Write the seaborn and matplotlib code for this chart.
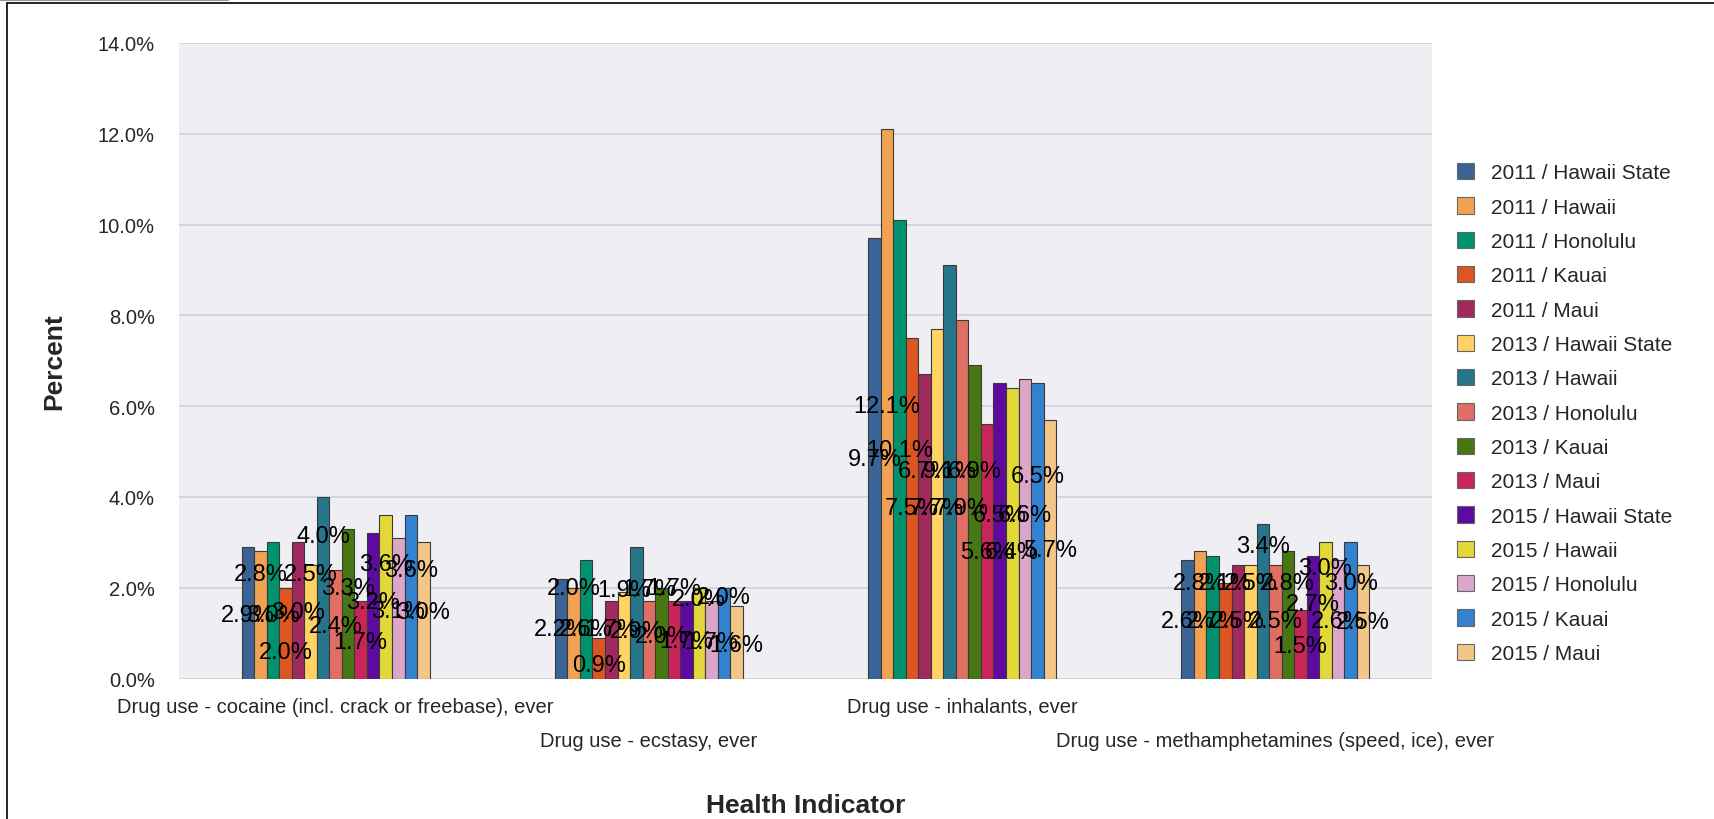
import numpy as np
import pandas as pd
import matplotlib
matplotlib.use("Agg")
import matplotlib.pyplot as plt
from matplotlib.lines import Line2D
from matplotlib.patches import Patch
import seaborn as sns

# categories and series
indicators = [
    "Drug use - cocaine (incl. crack or freebase), ever",
    "Drug use - ecstasy, ever",
    "Drug use - inhalants, ever",
    "Drug use - methamphetamines (speed, ice), ever",
]
series = [
    "2011 / Hawaii State", "2011 / Hawaii", "2011 / Honolulu", "2011 / Kauai", "2011 / Maui",
    "2013 / Hawaii State", "2013 / Hawaii", "2013 / Honolulu", "2013 / Kauai", "2013 / Maui",
    "2015 / Hawaii State", "2015 / Hawaii", "2015 / Honolulu", "2015 / Kauai", "2015 / Maui",
]
colors = [
    "#3a6496", "#f0a252", "#00926c", "#dc5621", "#a02a5e",
    "#ffd263", "#27758a", "#df6f62", "#467713", "#ca2559",
    "#5e0a9e", "#e3d83a", "#dba6ca", "#3282d0", "#f3c587",
]

# percent values, one list per indicator (in series order)
cocaine = [2.9, 2.8, 3.0, 2.0, 3.0, 2.5, 4.0, 2.4, 3.3, 1.7, 3.2, 3.6, 3.1, 3.6, 3.0]
ecstasy = [2.2, 2.0, 2.6, 0.9, 1.7, 1.9, 2.9, 1.7, 2.0, 1.7, 1.7, 2.0, 1.7, 2.0, 1.6]
inhalants = [9.7, 12.1, 10.1, 7.5, 6.7, 7.7, 9.1, 7.9, 6.9, 5.6, 6.5, 6.4, 6.6, 6.5, 5.7]
meth = [2.6, 2.8, 2.7, 2.1, 2.5, 2.5, 3.4, 2.5, 2.8, 1.5, 2.7, 3.0, 2.6, 3.0, 2.5]
values = [cocaine, ecstasy, inhalants, meth]

# heights where the value labels sit (the original shuffles them to dodge overlaps)
cocaine_lab = [1.4, 2.3, 1.4, 0.58, 1.46, 2.3, 3.15, 1.16, 2.0, 0.8, 1.68, 2.52, 1.49, 2.39, 1.46]
ecstasy_lab = [1.1, 2.0, 1.1, 0.3, 1.1, 1.95, 1.05, 1.97, 0.94, 2.0, 0.83, 1.75, 0.8, 1.8, 0.74]
inhalants_lab = [4.84, 6.0, 5.04, 3.76, 4.57, 3.76, 4.57, 3.76, 4.57, 2.79, 3.6, 2.79, 3.6, 4.46, 2.83]
meth_lab = [1.27, 2.11, 1.27, 2.11, 1.27, 2.11, 2.92, 1.27, 2.11, 0.72, 1.64, 2.44, 1.27, 2.11, 1.24]
label_y = [cocaine_lab, ecstasy_lab, inhalants_lab, meth_lab]

rows = []
for ind, vals in zip(indicators, values):
    for s, v in zip(series, vals):
        rows.append({"indicator": ind, "series": s, "percent": v})
df = pd.DataFrame(rows)

sns.set_style("white")
plt.rcParams["font.family"] = ["Liberation Sans", "DejaVu Sans"]

grid_col = "#cfcfdc"
fig = plt.figure(figsize=(17.15, 8.2), dpi=100)
ax = fig.add_axes([179 / 1715, 1 - 679.5 / 820, (1432 - 179) / 1715, (679.5 - 44) / 820])

sns.barplot(data=df, x="indicator", y="percent", hue="series", order=indicators,
            hue_order=series, palette=colors, width=0.6, saturation=1, errorbar=None,
            edgecolor="#3a3a3a", linewidth=0.8, legend=False, ax=ax)

ax.set_facecolor("#efeef3")
ax.set_xlim(-0.5, 3.5)
ax.set_ylim(0, 14)
ax.set_yticks(np.arange(0, 15, 2))
ax.set_yticklabels([f"{t:.1f}%" for t in np.arange(0, 15, 2)])
ax.yaxis.grid(True, color=grid_col, linewidth=1.2)
ax.set_axisbelow(True)
for sp in ax.spines.values():
    sp.set_visible(False)
ax.tick_params(axis="y", length=11.5, color=grid_col, width=1.2, pad=5.8, labelsize=14.5)
ax.tick_params(axis="x", length=0, labelsize=14.5)

ax.set_xlabel("Health Indicator", fontsize=19, fontweight="bold")
ax.set_ylabel("Percent", fontsize=19, fontweight="bold")
ax.xaxis.set_label_coords(0.5, -0.18)
ax.yaxis.set_label_coords(-0.090, 0.5)

# value labels centred on each bar
for hi, cont in enumerate(ax.containers):
    for ci, bar in enumerate(cont):
        x = bar.get_x() + bar.get_width() / 2
        ax.text(x, label_y[ci][hi], f"{values[ci][hi]:.1f}%", ha="center", va="center",
                fontsize=17, color="black")

# staggered category labels
for i, t in enumerate(ax.xaxis.get_major_ticks()):
    t.set_pad(13 if i % 2 == 0 else 38)

handles = [Patch(facecolor=c, edgecolor="#666666", linewidth=0.8) for c in colors]
fig.legend(handles, series, loc="upper left", bbox_to_anchor=(1457 / 1715, 1 - 164 / 820),
           frameon=False, fontsize=15, handlelength=0.82, handleheight=0.82,
           handletextpad=0.82, labelspacing=0.72, borderpad=0, borderaxespad=0)

# outer frame
fig.add_artist(Line2D([7 / 1715, 7 / 1715], [0, 1 - 4 / 820], transform=fig.transFigure,
                      color="black", lw=1.2))
fig.add_artist(Line2D([7 / 1715, 1], [1 - 4 / 820, 1 - 4 / 820], transform=fig.transFigure,
                      color="black", lw=1.2))
fig.add_artist(Line2D([0, 228 / 1715], [1 - 0.8 / 820, 1 - 0.8 / 820], transform=fig.transFigure,
                      color="#999999", lw=1.5))

fig.savefig("out.png", dpi=100)
